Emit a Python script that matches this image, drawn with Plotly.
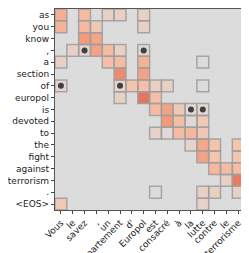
import plotly.graph_objects as go

src_tokens = ["as", "you", "know", ",", "a", "section", "of", "europol", "is",
              "devoted", "to", "the", "fight", "against", "terrorism", ".", "<EOS>"]
tgt_tokens = ["Vous", "le", "savez", ",", "un", "département", "d'", "Europol", "est",
              "consacré", "à", "la", "lutte", "contre", "le", "terrorisme", "."]

# (row, col, weight) for the cells that are drawn
cell_rows = [0, 0, 0, 0, 0,
             1, 1, 1, 1,
             2, 2,
             3, 3, 3, 3, 3, 3,
             4, 4, 4, 4, 4,
             5, 5,
             6, 6, 6, 6, 6, 6, 6,
             7, 7, 7,
             8, 8, 8, 8, 8,
             9, 9, 9, 9,
             10, 10, 10, 10, 10,
             11, 11, 11, 11,
             12, 12, 12,
             13, 13, 13,
             14, 14, 14,
             15, 15, 15, 15, 15,
             16, 16, 16]
cell_cols = [0, 2, 4, 5, 7,
             0, 2, 3, 7,
             2, 3,
             1, 2, 3, 4, 5, 7,
             0, 4, 5, 7, 12,
             5, 7,
             0, 5, 6, 7, 8, 9, 12,
             5, 7, 8,
             8, 9, 10, 11, 12,
             9, 10, 11, 12,
             8, 9, 10, 11, 12,
             11, 12, 13, 15,
             12, 13, 15,
             13, 14, 15,
             14, 15, 16,
             8, 12, 13, 15, 16,
             0, 12, 16]
cell_vals = [0.38, 0.30, 0.12, 0.12, 0.12,
             0.35, 0.33, 0.20, 0.12,
             0.50, 0.44,
             0.12, 0.06, 0.45, 0.30, 0.12, 0.07,
             0.13, 0.28, 0.30, 0.36, 0.0,
             0.56, 0.45,
             0.08, 0.07, 0.25, 0.28, 0.12, 0.12, 0.0,
             0.12, 0.66, 0.28,
             0.30, 0.45, 0.20, 0.05, 0.05,
             0.50, 0.28, 0.04, 0.20,
             0.10, 0.02, 0.30, 0.33, 0.20,
             0.08, 0.42, 0.25, 0.25,
             0.45, 0.25, 0.25,
             0.33, 0.30, 0.30,
             0.12, 0.63, 0.20,
             0.0, 0.12, 0.12, 0.12, 0.60,
             0.22, 0.10, 0.75]

dot_rows = [3, 3, 6, 6, 8, 8]
dot_cols = [2, 7, 0, 5, 11, 12]

n_r, n_c = len(src_tokens), len(tgt_tokens)
z = [[None] * n_c for _ in range(n_r)]
for r, c, v in zip(cell_rows, cell_cols, cell_vals):
    z[r][c] = v

# upper half of the coolwarm map
colorscale = [
    [0.0, "rgb(221,220,220)"],
    [0.25, "rgb(245,196,173)"],
    [0.5, "rgb(244,154,123)"],
    [0.75, "rgb(222,96,77)"],
    [1.0, "rgb(180,4,38)"],
]

fig = go.Figure()
fig.add_trace(go.Heatmap(
    z=z, x=list(range(n_c)), y=list(range(n_r)),
    colorscale=colorscale, zmin=0, zmax=1, showscale=False,
    hoverongaps=False,
))
fig.add_trace(go.Scatter(
    x=dot_cols, y=dot_rows, mode="markers",
    marker=dict(color="#404040", size=6), showlegend=False,
))

for r, c in zip(cell_rows, cell_cols):
    fig.add_shape(type="rect", xref="x", yref="y",
                  x0=c - 0.5, x1=c + 0.5, y0=r - 0.5, y1=r + 0.5,
                  line=dict(color="rgba(160,158,158,0.9)", width=1.5),
                  fillcolor="rgba(0,0,0,0)", layer="above")

axis_common = dict(showgrid=False, zeroline=False, showline=True, mirror=True,
                   linecolor="#555555", linewidth=1.2, ticks="outside",
                   ticklen=3, tickcolor="#444444", automargin=False,
                   tickfont=dict(size=9, color="#222222"))

fig.update_layout(
    width=249, height=253,
    margin=dict(l=47, r=1, t=1, b=51, autoexpand=False),
    paper_bgcolor="white", plot_bgcolor="rgb(221,220,220)",
    font=dict(family="DejaVu Sans", size=9, color="#222222"),
    showlegend=False,
    xaxis=dict(range=[-0.5, n_c - 0.5], tickmode="array",
               tickvals=list(range(n_c)), ticktext=tgt_tokens, tickangle=-45,
               **axis_common),
    yaxis=dict(range=[n_r - 0.5, -0.5], tickmode="array",
               tickvals=list(range(n_r)), ticktext=src_tokens,
               **axis_common),
)

fig.write_html("out.html")
